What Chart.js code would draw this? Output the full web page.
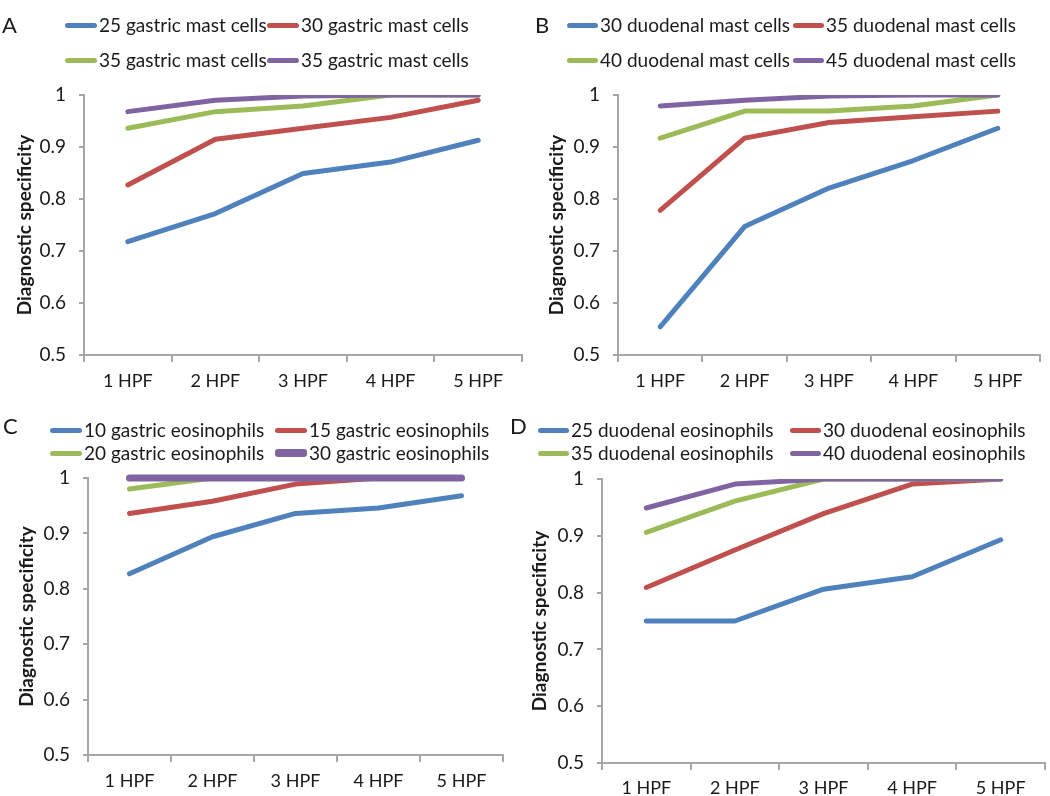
<!DOCTYPE html>
<html>
<head>
<meta charset="utf-8">
<script src="https://cdn.jsdelivr.net/npm/chart.js@4.4.1/dist/chart.umd.min.js"></script>
<style>
  html, body { margin: 0; padding: 0; background: #fff; }
  body { width: 1050px; height: 796px; position: relative; overflow: hidden; font-family: Lato, "Open Sans", sans-serif; color: #1a1a1a; }
  canvas { position: absolute; }
  .letter { position: absolute; font-size: 22px; line-height: 22px; }
  .leg { position: absolute; display: flex; align-items: center; white-space: nowrap; font-size: 19px; line-height: 20px; }
  .sw { display: inline-block; border-radius: 3px; margin-right: 2px; }
</style>
</head>
<body>
<canvas id="cA" width="525" height="400" style="left:0;top:0"></canvas>
<canvas id="cB" width="525" height="400" style="left:525px;top:0"></canvas>
<canvas id="cC" width="525" height="396" style="left:0;top:400px"></canvas>
<canvas id="cD" width="525" height="396" style="left:525px;top:400px"></canvas>
<div class="letter" style="left:2px;top:14px">A</div>
<div class="letter" style="left:535px;top:14px">B</div>
<div class="letter" style="left:3px;top:415px">C</div>
<div class="letter" style="left:510px;top:415px">D</div>
<div id="legends"></div>
<script>
// ---- data ----
const categories = ['1 HPF', '2 HPF', '3 HPF', '4 HPF', '5 HPF'];
const seriesColors = ['#4F81BD', '#C0504D', '#9BBB59', '#8064A2'];

const labelsA = ['25 gastric mast cells', '30 gastric mast cells', '35 gastric mast cells', '35 gastric mast cells'];
const a1 = [0.718, 0.772, 0.849, 0.871, 0.913];
const a2 = [0.827, 0.915, 0.936, 0.957, 0.990];
const a3 = [0.936, 0.968, 0.979, 1.0, 1.0];
const a4 = [0.968, 0.990, 0.998, 1.0, 1.0];

const labelsB = ['30 duodenal mast cells', '35 duodenal mast cells', '40 duodenal mast cells', '45 duodenal mast cells'];
const b1 = [0.554, 0.747, 0.821, 0.874, 0.936];
const b2 = [0.778, 0.917, 0.947, 0.958, 0.969];
const b3 = [0.917, 0.969, 0.969, 0.979, 1.0];
const b4 = [0.979, 0.990, 0.998, 1.0, 1.0];

const labelsC = ['10 gastric eosinophils', '15 gastric eosinophils', '20 gastric eosinophils', '30 gastric eosinophils'];
const c1 = [0.827, 0.894, 0.936, 0.946, 0.968];
const c2 = [0.936, 0.958, 0.989, 1.0, 1.0];
const c3 = [0.980, 1.0, 1.0, 1.0, 1.0];
const c4 = [1.0, 1.0, 1.0, 1.0, 1.0];

const labelsD = ['25 duodenal eosinophils', '30 duodenal eosinophils', '35 duodenal eosinophils', '40 duodenal eosinophils'];
const d1 = [0.750, 0.750, 0.806, 0.828, 0.893];
const d2 = [0.809, 0.875, 0.939, 0.991, 1.0];
const d3 = [0.906, 0.961, 1.0, 1.0, 1.0];
const d4 = [0.949, 0.991, 1.0, 1.0, 1.0];

const yMin = 0.5, yMax = 1, yStep = 0.1;
const yTitle = 'Diagnostic specificity';

// ---- drawing ----
const FONT = 'Lato, "Open Sans", sans-serif';
const AXIS = '#a6a6a6';
const TXT = '#1a1a1a';

function makeChart(id, labels, series, g) {
  const datasets = series.map((vals, i) => ({
    label: labels[i],
    data: vals,
    borderColor: seriesColors[i],
    backgroundColor: seriesColors[i],
    borderWidth: (g.widths && g.widths[i]) || 5,
    pointRadius: 0,
    tension: 0,
    borderCapStyle: 'round',
    borderJoinStyle: 'round',
    order: 3 - i,
    clip: g.clip
  }));
  new Chart(document.getElementById(id), {
    type: 'line',
    data: { labels: categories, datasets },
    options: {
      responsive: false,
      animation: false,
      events: [],
      layout: { padding: { left: 0, top: g.top, right: g.padRight, bottom: 0 } },
      plugins: { legend: { display: false }, tooltip: { enabled: false } },
      scales: {
        x: {
          type: 'category',
          offset: true,
          afterFit: s => { s.height = g.xH; },
          grid: { offset: true, drawOnChartArea: false, drawTicks: true, tickLength: 7, color: AXIS, lineWidth: 2 },
          border: { color: AXIS, width: 2 },
          ticks: { color: TXT, font: { family: FONT, size: 18 }, padding: g.xPad, maxRotation: 0, autoSkip: false }
        },
        y: {
          min: yMin, max: yMax,
          afterFit: s => { s.width = g.yW; },
          grid: { drawOnChartArea: false, drawTicks: true, tickLength: 5, color: AXIS, lineWidth: 2 },
          border: { color: AXIS, width: 2 },
          ticks: {
            stepSize: yStep, color: TXT, padding: 13,
            font: { family: FONT, size: 19 },
            callback: v => (Math.abs(v - 1) < 1e-9 ? '1' : v.toFixed(1))
          },
          title: {
            display: true, text: yTitle, color: TXT,
            font: { family: FONT, size: 19, weight: 'bold' },
            padding: { top: g.titleX - 11.4, bottom: 0 }
          }
        }
      }
    }
  });
}

makeChart('cA', labelsA, [a1, a2, a3, a4], { top: 95, padRight: 3, xH: 45, xPad: 8, yW: 84, titleX: 25, clip: 0 });
makeChart('cB', labelsB, [b1, b2, b3, b4], { top: 95, padRight: 10, xH: 45, xPad: 8, yW: 93, titleX: 32, clip: 0 });
makeChart('cC', labelsC, [c1, c2, c3, c4], { top: 78, padRight: 22, xH: 41, xPad: 8, yW: 88, titleX: 27, clip: false, widths: [5, 5, 5, 7] });
makeChart('cD', labelsD, [d1, d2, d3, d4], { top: 79, padRight: 5, xH: 33, xPad: 7, yW: 77, titleX: 15, clip: 0 });

// ---- legends (HTML, built from the series labels/colours) ----
const legendSpecs = [
  { labels: labelsA, cols: [65, 267], rows: [25, 60], sw: 32, th: [5, 5, 5, 5] },
  { labels: labelsB, cols: [567, 793], rows: [25, 60], sw: 31, th: [5, 5, 5, 5] },
  { labels: labelsC, cols: [50, 275], rows: [430, 453], sw: 32, th: [5, 5, 5, 8] },
  { labels: labelsD, cols: [538, 790], rows: [430, 453], sw: 31, th: [5, 5, 5, 5] }
];
const host = document.getElementById('legends');
legendSpecs.forEach(spec => {
  spec.labels.forEach((lab, i) => {
    const el = document.createElement('div');
    el.className = 'leg';
    el.style.left = spec.cols[i % 2] + 'px';
    el.style.top = (spec.rows[Math.floor(i / 2)] - 10) + 'px';
    const sw = document.createElement('span');
    sw.className = 'sw';
    sw.style.width = spec.sw + 'px';
    sw.style.height = spec.th[i] + 'px';
    sw.style.background = seriesColors[i];
    const t = document.createElement('span');
    t.textContent = lab;
    el.appendChild(sw); el.appendChild(t);
    host.appendChild(el);
  });
});
</script>
</body>
</html>
